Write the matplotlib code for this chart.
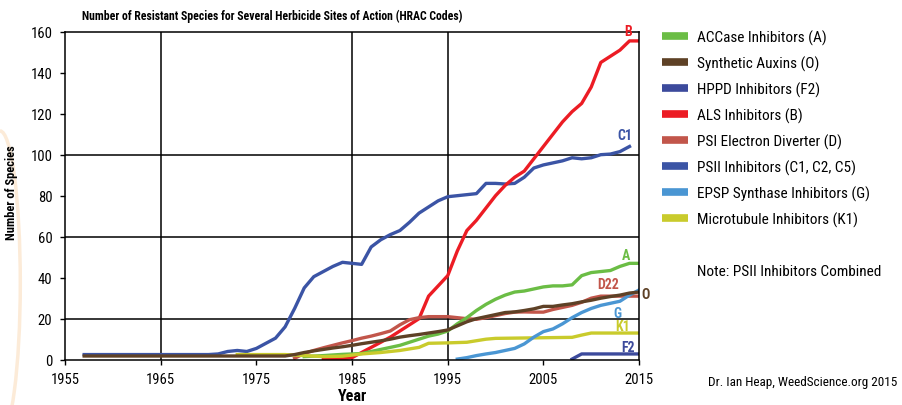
import numpy as np
import matplotlib
matplotlib.use("Agg")
import matplotlib.pyplot as plt
from matplotlib.lines import Line2D
from matplotlib.patches import Arc

# narrow sans to stand in for Helvetica Condensed
plt.rcParams['font.family'] = ['Roboto Condensed', 'DejaVu Sans']
plt.rcParams['font.stretch'] = 'condensed'

# ---- data ----
yr_c1 = [1957, 1962, 1967, 1970, 1971, 1972, 1973, 1974, 1975, 1976, 1977, 1978, 1979,
         1980, 1981, 1982, 1983, 1984, 1985, 1986, 1987, 1988, 1989, 1990, 1991, 1992,
         1993, 1994, 1995, 1996, 1997, 1998, 1999, 2000, 2001, 2002, 2003, 2004, 2005,
         2006, 2007, 2008, 2009, 2010, 2011, 2012, 2013, 2014]
psii_c1 = [2.5, 2.5, 2.5, 2.5, 2.8, 4.0, 4.5, 4.0, 5.5, 8.0, 10.5, 16, 25,
           35, 40.5, 43, 45.5, 47.5, 47, 46.5, 55, 58.5, 61, 63, 67, 71.5,
           74.5, 77.5, 79.5, 80, 80.5, 81, 86, 86, 85.7, 86, 89, 93.5, 95,
           96, 97, 98.5, 98, 98.5, 100, 100.3, 101.5, 104]

yr_b = [1982, 1984, 1985, 1986, 1987, 1988, 1989, 1990, 1991, 1992, 1993, 1994, 1995,
        1996, 1997, 1998, 1999, 2000, 2001, 2002, 2003, 2004, 2005, 2006, 2007, 2008,
        2009, 2010, 2011, 2012, 2013, 2014, 2015]
als_b = [0.5, 0.5, 1, 3.5, 6, 8.5, 11, 14, 17, 20, 31, 36, 41,
         53, 63, 68, 74, 80, 85, 89, 92, 98, 104, 110, 116, 121,
         125, 133, 145, 148, 151, 155.5, 155.5]

yr_d = [1979, 1980, 1981, 1982, 1983, 1984, 1985, 1986, 1987, 1988, 1989, 1990, 1991,
        1992, 1993, 1994, 1995, 1996, 1997, 1998, 1999, 2000, 2001, 2002, 2003, 2004,
        2005, 2006, 2007, 2008, 2009, 2010, 2011, 2012, 2013, 2014, 2015]
psi_d = [0.7, 3, 4.5, 5.8, 7, 8.2, 9.3, 10.5, 11.5, 12.7, 14, 17, 19.5,
         20.5, 21, 21, 21, 20.5, 20, 19.7, 20.5, 21.5, 22.5, 23.2, 23.3, 23.2,
         23.2, 24.5, 25.5, 26.5, 28, 30, 31, 31, 31, 31, 31]

yr_o = [1957, 1965, 1975, 1978, 1979, 1980, 1981, 1982, 1983, 1984, 1985, 1986, 1987,
        1988, 1989, 1990, 1991, 1992, 1993, 1994, 1995, 1996, 1997, 1998, 1999, 2000,
        2001, 2002, 2003, 2004, 2005, 2006, 2007, 2008, 2009, 2010, 2011, 2012, 2013,
        2014, 2015]
auxin_o = [1.8, 1.8, 1.8, 1.8, 2.5, 3.5, 4.3, 5, 5.7, 6.3, 7, 7.8, 8.5,
           9.2, 10, 11, 11.7, 12.3, 13, 13.7, 14.5, 16.5, 18.5, 20, 21, 22,
           23, 23.3, 24, 24.8, 26, 26, 26.7, 27.3, 28.2, 29, 30, 30.8, 31.5,
           32.5, 33]

yr_a = [1980, 1982, 1984, 1985, 1986, 1987, 1988, 1989, 1990, 1991, 1992, 1993, 1994,
        1995, 1996, 1997, 1998, 1999, 2000, 2001, 2002, 2003, 2004, 2005, 2006, 2007,
        2008, 2009, 2010, 2011, 2012, 2013, 2014, 2015]
accase_a = [1.5, 2, 2.6, 2.8, 3, 4, 5, 6, 7, 8.5, 10, 11.5, 12.5,
            14, 17.5, 20.5, 24, 27, 29.5, 31.5, 33, 33.5, 34.5, 35.5, 36, 36,
            36.5, 41, 42.5, 43, 43.5, 45.5, 47, 47]

yr_k1 = [1973, 1978, 1980, 1982, 1984, 1986, 1988, 1990, 1992, 1993, 1995, 1997, 1999,
         2000, 2008, 2009, 2010, 2015]
micro_k1 = [2.5, 2.5, 2, 1.5, 1.7, 2.8, 3.5, 4.5, 6, 8, 8.2, 8.5, 10,
            10.4, 10.9, 12, 13, 13]

yr_g = [1996, 1997, 1998, 1999, 2000, 2001, 2002, 2003, 2004, 2005, 2006, 2007, 2008,
        2009, 2010, 2011, 2012, 2013, 2014, 2015]
epsp_g = [0.3, 1, 2, 2.8, 3.5, 4.5, 5.5, 7.7, 11, 13.7, 15, 17.5, 20.5,
          23, 25, 26.5, 27.5, 28.5, 31.5, 34]

yr_f2 = [2008, 2009, 2015]
hppd_f2 = [0.3, 2.8, 2.8]

legend_labels = ["ACCase Inhibitors (A)", "Synthetic Auxins (O)", "HPPD Inhibitors (F2)",
                 "ALS Inhibitors (B)", "PSI Electron Diverter (D)", "PSII Inhibitors (C1, C2, C5)",
                 "EPSP Synthase Inhibitors (G)", "Microtubule Inhibitors (K1)"]
legend_colors = ["#6bbd45", "#5e4126", "#3c4a9c", "#ec1c24", "#c2564b", "#3b54a5",
                 "#4a96d3", "#c9cb2c"]
col = dict(zip(["A", "O", "F2", "B", "D", "C1", "G", "K1"], legend_colors))

fig = plt.figure(figsize=(9.02, 4.06), dpi=100)
ax = fig.add_axes([0.0721, 0.1116, 0.6364, 0.8079])

lw = 2.4
ax.plot(yr_c1, psii_c1, color=col["C1"], lw=lw)
ax.plot(yr_b, als_b, color=col["B"], lw=lw)
ax.plot(yr_d, psi_d, color=col["D"], lw=lw)
ax.plot(yr_a, accase_a, color=col["A"], lw=lw)
ax.plot(yr_k1, micro_k1, color=col["K1"], lw=lw)
ax.plot(yr_g, epsp_g, color=col["G"], lw=lw)
ax.plot(yr_f2, hppd_f2, color=col["F2"], lw=lw)
ax.plot(yr_o, auxin_o, color=col["O"], lw=lw)

ax.set_xlim(1955, 2015)
ax.set_ylim(0, 160)
ax.set_xticks(np.arange(1955, 2016, 10))
ax.set_yticks(np.arange(0, 161, 20))
ax.tick_params(direction='out', length=3.6, width=1, labelsize=10.5, pad=5.5)

# the original only has a few grid lines
for gx in [1965, 1985, 1995]:
    ax.axvline(gx, color='black', lw=1.1, zorder=0.5)
for gy in [20, 60, 100]:
    ax.axhline(gy, color='black', lw=1.1, zorder=0.5)
for s in ax.spines.values():
    s.set_linewidth(1.1)

ax.set_xlabel("Year", fontsize=11.5, fontweight='bold', labelpad=1)
fig.text(0.013, 0.525, "Number of Species", rotation=90, ha='center', va='center',
         fontsize=9, fontweight='bold')
fig.text(0.3016, 0.96, "Number of Resistant Species for Several Herbicide Sites of Action (HRAC Codes)",
         ha='center', va='center', fontsize=8.5, fontweight='bold')

# end labels
end_lbls = [("B", 2013.9, 160.5, "B"), ("C1", 2013.5, 109.6, "C1"), ("A", 2013.6, 51, "A"),
            ("D22", 2011.8, 36.8, "D"), ("G", 2012.7, 22.6, "G"), ("K1", 2013.3, 16.3, "K1"),
            ("F2", 2013.8, 6.3, "F2"), ("O", 2015.7, 32, "O")]
for txt, x, y, k in end_lbls:
    ax.text(x, y, txt, color=col[k], fontsize=10, fontweight='bold', ha='center', va='center',
            clip_on=False)

handles = [Line2D([], [], color=c, lw=5.5, solid_capstyle='butt') for c in legend_colors]
fig.legend(handles, legend_labels, loc='upper left', bbox_to_anchor=(0.734, 0.925),
           frameon=False, fontsize=11, handlelength=1.7, handletextpad=0.6,
           labelspacing=0.7, borderaxespad=0, borderpad=0)

fig.text(0.773, 0.33, "Note: PSII Inhibitors Combined", fontsize=11, ha='left', va='center')
fig.text(0.785, 0.059, "Dr. Ian Heap, WeedScience.org 2015", fontsize=9.5, ha='left', va='center')

# faint watermark arc at left edge
arc = Arc((0.0, 0.3), 0.045, 0.75, theta1=-90, theta2=90, transform=fig.transFigure,
          color='#fcebd8', lw=2.5)
fig.add_artist(arc)

fig.savefig("out.png", dpi=100)
